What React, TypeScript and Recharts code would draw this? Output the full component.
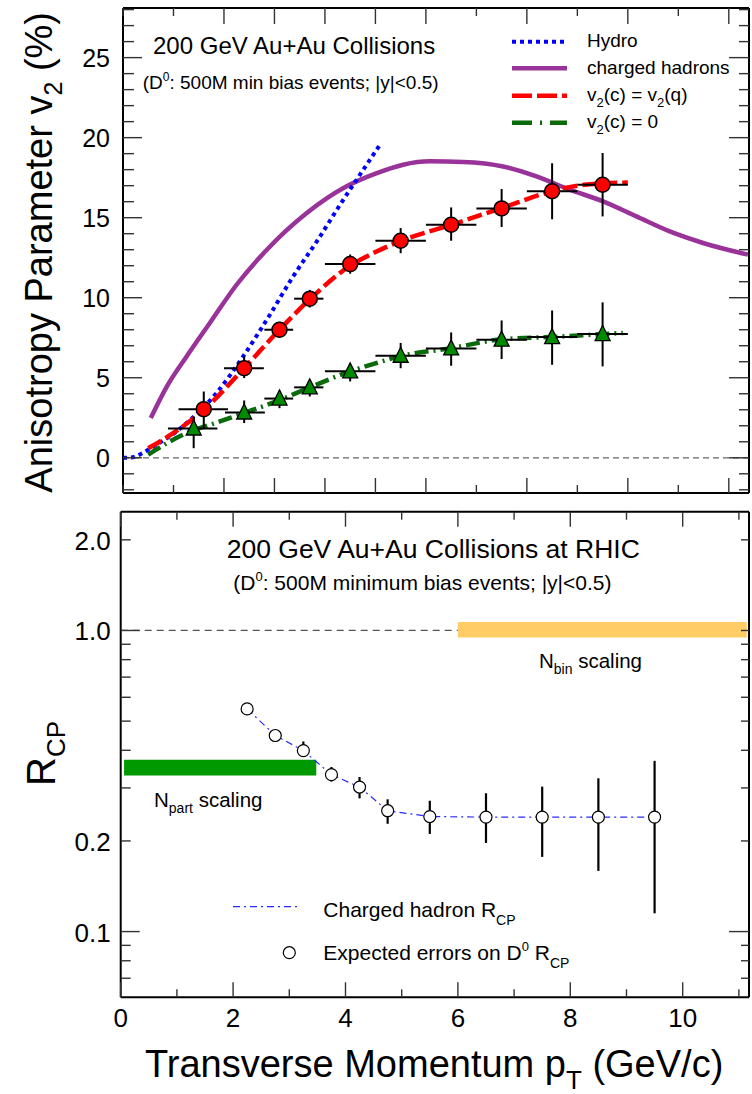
import React from 'react';
import { ComposedChart, Line, Scatter, XAxis, YAxis, ErrorBar, ReferenceLine, ReferenceArea } from 'recharts';

const FONT = "'Liberation Sans', Arial, Helvetica, sans-serif";

// ================= Upper panel: v2 (%) vs pT (GeV/c) =================
const hydroPt = [0, 0.16, 0.33, 0.5, 0.73, 1.0, 1.26, 1.85, 2.38, 2.91, 3.37, 3.84, 4.3, 4.76, 5.1];
const hydroV2 = [0, 0.02, 0.2, 0.5, 0.95, 1.5, 2.17, 4.04, 6.33, 8.94, 11.33, 13.52, 15.81, 18.0, 19.6];

const hadronPt = [0.55, 0.87, 1.26, 1.72, 2.25, 2.85, 3.64, 4.43, 5.0, 5.55, 6.08, 6.74, 7.53, 8.19, 8.85, 9.51, 10.17, 10.83, 11.49, 12.38];
const hadronV2 = [2.48, 4.46, 6.33, 8.42, 10.81, 13.0, 15.29, 16.96, 17.75, 18.31, 18.52, 18.48, 18.2, 17.58, 16.75, 16.02, 15.08, 14.14, 13.42, 12.69];

const quarkLinePt = [0.5, 1.0, 1.6, 2.4, 3.1, 3.7, 4.5, 5.0, 5.5, 6.5, 7.5, 8.5, 9.0, 10.0];
const quarkLineV2 = [0.6, 1.55, 3.0, 5.6, 8.0, 9.9, 12.0, 12.85, 13.55, 14.55, 15.6, 16.65, 17.0, 17.2];

const zeroLinePt = [0.5, 0.93, 1.19, 1.92, 2.4, 3.1, 3.7, 4.5, 5.0, 5.5, 6.5, 7.5, 8.5, 9.9];
const zeroLineV2 = [0.19, 1.02, 1.44, 2.27, 2.8, 3.6, 4.4, 5.4, 5.9, 6.35, 6.85, 7.4, 7.55, 7.8];

const quarkPt = [1.6, 2.4, 3.1, 3.7, 4.5, 5.5, 6.5, 7.5, 8.5, 9.5];
const quarkV2 = [3.04, 5.6, 8.0, 9.94, 12.1, 13.56, 14.56, 15.58, 16.65, 17.06];
const quarkErrLo = [1.18, 0.62, 0.5, 0.55, 0.6, 0.78, 1.0, 1.16, 1.75, 1.98];
const quarkErrHi = [1.1, 0.73, 0.5, 0.55, 0.6, 0.79, 1.08, 1.21, 1.75, 1.98];
const quarkPtLo = [0.5, 0.4, 0.3, 0.31, 0.5, 0.5, 0.5, 0.5, 0.5, 0.5];
const quarkPtHi = [0.48, 0.39, 0.27, 0.27, 0.5, 0.5, 0.5, 0.5, 0.5, 0.5];

const zeroPt = [1.4, 2.4, 3.1, 3.7, 4.5, 5.5, 6.5, 7.5, 8.5, 9.5];
const zeroV2 = [1.83, 2.83, 3.7, 4.4, 5.4, 6.375, 6.83, 7.38, 7.54, 7.73];
const zeroErrLo = [1.23, 0.66, 0.6, 0.57, 0.63, 0.78, 1.08, 1.21, 1.73, 2.02];
const zeroErrHi = [0.75, 0.75, 0.5, 0.48, 0.41, 0.8, 1.0, 1.2, 1.66, 1.98];
const zeroPtLo = [0.51, 0.38, 0.3, 0.31, 0.5, 0.5, 0.5, 0.5, 0.5, 0.5];
const zeroPtHi = [0.47, 0.41, 0.27, 0.27, 0.5, 0.5, 0.5, 0.5, 0.5, 0.5];

const topXDomain = [0, 12.4];
const topYDomain = [-2.2, 28.1];
const topXTicks = [0, 1, 2, 3, 4, 5, 6, 7, 8, 9, 10, 11, 12];
const topXMajor = [2, 3, 4, 5, 6, 8, 10, 12];
const topYTicks = Array.from({ length: 31 }, (_, i) => i - 2);
const topYMajor = [0, 5, 10, 15, 20, 25];

// ================= Lower panel: R_CP vs pT =================
const rcpPt = [2.25, 2.75, 3.25, 3.75, 4.25, 4.75, 5.5, 6.5, 7.5, 8.5, 9.5];
const rcpVal = [0.549, 0.448, 0.399, 0.332, 0.302, 0.252, 0.241, 0.24, 0.24, 0.24, 0.24];
const rcpErrLo = [0.004, 0.008, 0.016, 0.017, 0.025, 0.024, 0.03, 0.043, 0.063, 0.081, 0.125];
const rcpErrHi = [0.004, 0.008, 0.029, 0.02, 0.024, 0.023, 0.031, 0.048, 0.063, 0.083, 0.129];

const nbinBand = { x1: 6.0, x2: 11.14, y1: 0.948, y2: 1.066 };
const npartBand = { x1: 0.06, x2: 3.48, y1: 0.33, y2: 0.372 };
const unityLine = { x1: 0, x2: 6.0, y: 1.0 };

const botXDomain = [0, 11.18];
const botYDomain = [0.0605, 2.48];
const botXTicks = [0, 1, 2, 3, 4, 5, 6, 7, 8, 9, 10, 11];
const botXMajor = [0, 2, 4, 6, 8, 10];
const botYTicks = [0.07, 0.08, 0.09, 0.1, 0.2, 0.3, 0.4, 0.5, 0.6, 0.7, 0.8, 0.9, 1.0, 2.0];
const botYMajor = [0.1, 1.0];
const botYRightMajor = [0.1];
const botYLabels: Record<string, string> = { '0.1': '0.1', '0.2': '0.2', '1': '1.0', '2': '2.0' };

// ---------- data tables built from the arrays ----------
const zipLine = (xs: number[], ys: number[]) => xs.map((pt, i) => ({ pt, v: ys[i] }));
const hydroData = zipLine(hydroPt, hydroV2);
const hadronData = zipLine(hadronPt, hadronV2);
const quarkLineData = zipLine(quarkLinePt, quarkLineV2);
const zeroLineData = zipLine(zeroLinePt, zeroLineV2);
const quarkData = quarkPt.map((pt, i) => ({ pt, v: quarkV2[i], ey: [quarkErrLo[i], quarkErrHi[i]], ex: [quarkPtLo[i], quarkPtHi[i]] }));
const zeroData = zeroPt.map((pt, i) => ({ pt, v: zeroV2[i], ey: [zeroErrLo[i], zeroErrHi[i]], ex: [zeroPtLo[i], zeroPtHi[i]] }));
const rcpData = rcpPt.map((pt, i) => ({ pt, v: rcpVal[i], ey: [rcpErrLo[i], rcpErrHi[i]] }));

// ---------- tick rendering (ROOT style: inward ticks) ----------
interface TickSpec {
  side: 'left' | 'right' | 'top' | 'bottom';
  major: number[];
  majorLen: number;
  minorLen: number;
  label?: (v: number) => string | null;
  fontSize?: number;
  dx?: number;
  dy?: number;
}
const near = (a: number, b: number) => Math.abs(a - b) < 1e-6;
function makeTick(spec: TickSpec) {
  return (props: any) => {
    const { x, y, payload } = props;
    const v = Number(payload.value);
    const len = spec.major.some((m) => near(m, v)) ? spec.majorLen : spec.minorLen;
    let x2 = x;
    let y2 = y;
    if (spec.side === 'left') x2 = x + len;
    if (spec.side === 'right') x2 = x - len;
    if (spec.side === 'bottom') y2 = y - len;
    if (spec.side === 'top') y2 = y + len;
    const lab = spec.label ? spec.label(v) : null;
    return (
      <g>
        <line x1={x} y1={y} x2={x2} y2={y2} stroke="#333" strokeWidth={1.4} />
        {lab !== null && spec.side === 'left' && (
          <text x={x - (spec.dx || 0)} y={y + (spec.dy || 0)} textAnchor="end" fontSize={spec.fontSize} fontFamily={FONT} fill="#000">
            {lab}
          </text>
        )}
        {lab !== null && spec.side === 'bottom' && (
          <text x={x} y={y + (spec.dy || 0)} textAnchor="middle" fontSize={spec.fontSize} fontFamily={FONT} fill="#000">
            {lab}
          </text>
        )}
      </g>
    );
  };
}

const frame = { stroke: '#000', strokeWidth: 2 };

const RedCircle = (p: any) => <circle cx={p.cx} cy={p.cy} r={7.5} fill="#ff0000" stroke="#000" strokeWidth={1.5} />;
const GreenTriangle = (p: any) => (
  <polygon
    points={`${p.cx},${p.cy - 8.5} ${p.cx - 7.5},${p.cy + 6.5} ${p.cx + 7.5},${p.cy + 6.5}`}
    fill="#008a00"
    stroke="#000"
    strokeWidth={1.3}
  />
);
const OpenCircle = (p: any) => <circle cx={p.cx} cy={p.cy} r={6} fill="#fff" stroke="#000" strokeWidth={1.2} />;

function TopChart() {
  return (
    <ComposedChart width={752} height={500} margin={{ top: 7, right: 2, bottom: 6, left: 83 }}>
      <XAxis xAxisId="b" dataKey="pt" type="number" domain={topXDomain} allowDataOverflow ticks={topXTicks} interval={0}
        height={1} tickSize={0} tickMargin={0} tickLine={false} axisLine={frame}
        tick={makeTick({ side: 'bottom', major: topXMajor, majorLen: 15, minorLen: 8 })} />
      <XAxis xAxisId="t" orientation="top" dataKey="pt" type="number" domain={topXDomain} allowDataOverflow ticks={topXTicks} interval={0}
        height={1} tickSize={0} tickMargin={0} tickLine={false} axisLine={frame}
        tick={makeTick({ side: 'top', major: topXMajor, majorLen: 16, minorLen: 8 })} />
      <YAxis yAxisId="l" dataKey="v" type="number" domain={topYDomain} allowDataOverflow ticks={topYTicks} interval={0}
        width={40} tickSize={0} tickMargin={0} tickLine={false} axisLine={frame}
        tick={makeTick({ side: 'left', major: topYMajor, majorLen: 19, minorLen: 11, fontSize: 25, dx: 13, dy: 9,
          label: (v) => (topYMajor.some((m) => near(m, v)) ? String(v) : null) })} />
      <YAxis yAxisId="r" orientation="right" dataKey="v" type="number" domain={topYDomain} allowDataOverflow ticks={topYTicks} interval={0}
        width={1} tickSize={0} tickMargin={0} tickLine={false} axisLine={frame}
        tick={makeTick({ side: 'right', major: topYMajor, majorLen: 20, minorLen: 10 })} />
      <ReferenceLine xAxisId="b" yAxisId="l" y={0} stroke="#666" strokeWidth={1.2} strokeDasharray="6 4" />
      <Line xAxisId="b" yAxisId="l" data={hadronData} dataKey="v" type="monotone" stroke="#993399" strokeWidth={4.5} dot={false} activeDot={false} isAnimationActive={false} />
      <Line xAxisId="b" yAxisId="l" data={hydroData} dataKey="v" type="monotone" stroke="#0000ff" strokeWidth={4} strokeDasharray="4 4" dot={false} activeDot={false} isAnimationActive={false} />
      <Line xAxisId="b" yAxisId="l" data={zeroLineData} dataKey="v" type="monotone" stroke="#0b6b0b" strokeWidth={4.5} strokeDasharray="14 5 2 5" dot={false} activeDot={false} isAnimationActive={false} />
      <Line xAxisId="b" yAxisId="l" data={quarkLineData} dataKey="v" type="monotone" stroke="#ff0000" strokeWidth={4.5} strokeDasharray="15 5" dot={false} activeDot={false} isAnimationActive={false} />
      <Scatter xAxisId="b" yAxisId="l" data={zeroData} dataKey="v" shape={GreenTriangle} isAnimationActive={false}>
        <ErrorBar dataKey="ex" direction="x" width={0} stroke="#000" strokeWidth={2} />
        <ErrorBar dataKey="ey" direction="y" width={0} stroke="#000" strokeWidth={2} />
      </Scatter>
      <Scatter xAxisId="b" yAxisId="l" data={quarkData} dataKey="v" shape={RedCircle} isAnimationActive={false}>
        <ErrorBar dataKey="ex" direction="x" width={0} stroke="#000" strokeWidth={2} />
        <ErrorBar dataKey="ey" direction="y" width={0} stroke="#000" strokeWidth={2} />
      </Scatter>
    </ComposedChart>
  );
}

function BottomChart() {
  return (
    <ComposedChart width={752} height={594} margin={{ top: 10.7, right: 2, bottom: 95.7, left: 80.7 }}>
      <XAxis xAxisId="b" dataKey="pt" type="number" domain={botXDomain} allowDataOverflow ticks={botXTicks} interval={0}
        height={1} tickSize={0} tickMargin={0} tickLine={false} axisLine={frame}
        tick={makeTick({ side: 'bottom', major: botXMajor, majorLen: 15, minorLen: 8, fontSize: 26, dy: 30,
          label: (v) => (botXMajor.some((m) => near(m, v)) ? String(v) : null) })} />
      <XAxis xAxisId="t" orientation="top" dataKey="pt" type="number" domain={botXDomain} allowDataOverflow ticks={botXTicks} interval={0}
        height={1} tickSize={0} tickMargin={0} tickLine={false} axisLine={frame}
        tick={makeTick({ side: 'top', major: botXMajor, majorLen: 15, minorLen: 8 })} />
      <YAxis yAxisId="l" dataKey="v" type="number" scale="log" domain={botYDomain} allowDataOverflow ticks={botYTicks} interval={0}
        width={40} tickSize={0} tickMargin={0} tickLine={false} axisLine={frame}
        tick={makeTick({ side: 'left', major: botYMajor, majorLen: 19, minorLen: 10, fontSize: 26, dx: 10, dy: 10,
          label: (v) => botYLabels[String(Math.round(v * 1000) / 1000)] ?? null })} />
      <YAxis yAxisId="r" orientation="right" dataKey="v" type="number" scale="log" domain={botYDomain} allowDataOverflow ticks={botYTicks} interval={0}
        width={1} tickSize={0} tickMargin={0} tickLine={false} axisLine={frame}
        tick={makeTick({ side: 'right', major: botYRightMajor, majorLen: 20, minorLen: 8 })} />
      <ReferenceLine xAxisId="b" yAxisId="l" segment={[{ x: unityLine.x1, y: unityLine.y }, { x: unityLine.x2, y: unityLine.y }]}
        stroke="#555" strokeWidth={1.2} strokeDasharray="7 5" />
      <ReferenceArea xAxisId="b" yAxisId="l" x1={nbinBand.x1} x2={nbinBand.x2} y1={nbinBand.y1} y2={nbinBand.y2} fill="#ffcc66" fillOpacity={1} stroke="none" />
      <ReferenceArea xAxisId="b" yAxisId="l" x1={npartBand.x1} x2={npartBand.x2} y1={npartBand.y1} y2={npartBand.y2} fill="#009900" fillOpacity={1} stroke="none" />
      <Line xAxisId="b" yAxisId="l" data={rcpData} dataKey="v" type="linear" stroke="#2a2aff" strokeWidth={1.2} strokeDasharray="7 4 2 4" dot={false} activeDot={false} isAnimationActive={false} />
      <Scatter xAxisId="b" yAxisId="l" data={rcpData} dataKey="v" shape={OpenCircle} isAnimationActive={false}>
        <ErrorBar dataKey="ey" direction="y" width={0} stroke="#000" strokeWidth={2.2} />
      </Scatter>
    </ComposedChart>
  );
}

function Overlay() {
  const t = { fontFamily: FONT, fill: '#000' } as const;
  return (
    <svg width={752} height={1094} style={{ position: 'absolute', left: 0, top: 0, pointerEvents: 'none' }}>
      <defs>
        <clipPath id="topClip">
          <rect x={0} y={0} width={752} height={497} />
        </clipPath>
      </defs>
      {/* upper panel texts */}
      <text x={153} y={54} fontSize={24} {...t}>200 GeV Au+Au Collisions</text>
      <text x={142.7} y={89.3} fontSize={19} {...t}>
        (D<tspan dy={-8} fontSize={12}>0</tspan>
        <tspan dy={8}>: 500M min bias events; |y|&lt;0.5)</tspan>
      </text>
      {/* upper legend */}
      <line x1={512} x2={567} y1={41.7} y2={41.7} stroke="#0000ff" strokeWidth={4} strokeDasharray="4 4" />
      <text x={587} y={47} fontSize={19} {...t}>Hydro</text>
      <line x1={512} x2={567} y1={68.3} y2={68.3} stroke="#993399" strokeWidth={4.5} />
      <text x={587} y={74} fontSize={19} {...t}>charged hadrons</text>
      <line x1={512} x2={567} y1={95.7} y2={95.7} stroke="#ff0000" strokeWidth={4.5} strokeDasharray="20 5" />
      <text x={587} y={101} fontSize={19} {...t}>
        v<tspan dy={6} fontSize={13}>2</tspan>
        <tspan dy={-6}>(c) = v</tspan>
        <tspan dy={6} fontSize={13}>2</tspan>
        <tspan dy={-6}>(q)</tspan>
      </text>
      <line x1={512} x2={567} y1={122.7} y2={122.7} stroke="#0b6b0b" strokeWidth={4.5} strokeDasharray="20 8 2 8" />
      <text x={587} y={128} fontSize={19} {...t}>
        v<tspan dy={6} fontSize={13}>2</tspan>
        <tspan dy={-6}>(c) = 0</tspan>
      </text>
      {/* upper y label */}
      <g clipPath="url(#topClip)">
        <text transform="rotate(-90)" x={-12} y={52} textAnchor="end" fontSize={38} {...t}>
          Anisotropy Parameter v<tspan dy={10} fontSize={25}>2</tspan>
          <tspan dy={-10}> (%)</tspan>
        </text>
      </g>

      {/* lower panel texts */}
      <text x={226.7} y={558.3} fontSize={26.5} {...t}>200 GeV Au+Au Collisions at RHIC</text>
      <text x={233.3} y={590} fontSize={21} {...t}>
        (D<tspan dy={-9} fontSize={13}>0</tspan>
        <tspan dy={9}>: 500M minimum bias events; |y|&lt;0.5)</tspan>
      </text>
      <text x={539} y={668.3} fontSize={20.5} {...t}>
        N<tspan dy={6} fontSize={14}>bin</tspan>
        <tspan dy={-6}> scaling</tspan>
      </text>
      <text x={154} y={806.7} fontSize={20.5} {...t}>
        N<tspan dy={6} fontSize={14}>part</tspan>
        <tspan dy={-6}> scaling</tspan>
      </text>
      {/* lower legend */}
      <line x1={233} x2={298} y1={906.7} y2={906.7} stroke="#2a2aff" strokeWidth={1.2} strokeDasharray="7 4 2 4" />
      <text x={323.3} y={917} fontSize={21} {...t}>
        Charged hadron R<tspan dy={8} fontSize={14}>CP</tspan>
      </text>
      <circle cx={289.3} cy={952.7} r={6} fill="#fff" stroke="#000" strokeWidth={1.2} />
      <text x={323.3} y={960} fontSize={21} {...t}>
        Expected errors on D<tspan dy={-9} fontSize={13}>0</tspan>
        <tspan dy={9}> R</tspan>
        <tspan dy={8} fontSize={14}>CP</tspan>
      </text>
      {/* lower y label */}
      <text transform="rotate(-90)" x={-786} y={55} textAnchor="start" fontSize={40} {...t}>
        R<tspan dy={10} fontSize={26}>CP</tspan>
      </text>
      {/* x label */}
      <text x={145} y={1076.7} fontSize={38} {...t}>
        Transverse Momentum p<tspan dy={12} fontSize={26}>T</tspan>
        <tspan dy={-12}> (GeV/c)</tspan>
      </text>
    </svg>
  );
}

export default function App() {
  return (
    <div style={{ position: 'absolute', left: 0, top: 0, width: 752, height: 1094, background: '#fff' }}>
      <div style={{ position: 'absolute', left: 0, top: 0 }}>
        <TopChart />
      </div>
      <div style={{ position: 'absolute', left: 0, top: 500 }}>
        <BottomChart />
      </div>
      <Overlay />
    </div>
  );
}
